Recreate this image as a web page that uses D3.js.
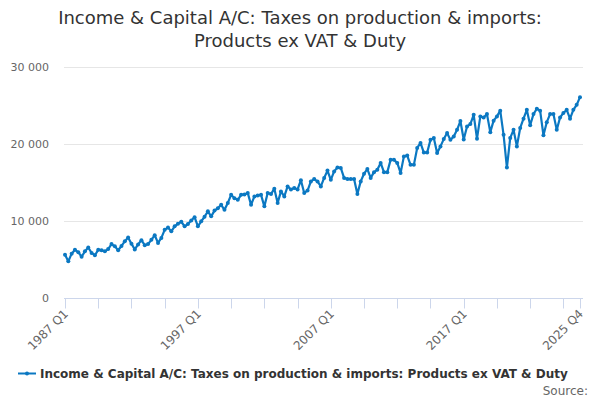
<!DOCTYPE html>
<html>
<head>
<meta charset="utf-8">
<script src="https://cdn.jsdelivr.net/npm/d3@7"></script>
<style>
  html, body { margin: 0; padding: 0; background: #fff; }
  svg { display: block; font-family: "DejaVu Sans", "Open Sans", sans-serif; }
</style>
</head>
<body>
<svg id="chart" width="600" height="400"></svg>
<script>
// ---- data ----
const titleLines = ["Income & Capital A/C: Taxes on production & imports:", "Products ex VAT & Duty"];
const seriesName = "Income & Capital A/C: Taxes on production & imports: Products ex VAT & Duty";
const startYear = 1987;
const values = [
  5550, 4700, 5700, 6200, 5900, 5300, 6000, 6500, 5800, 5500,
  6200, 6150, 6000, 6300, 6950, 6650, 6150, 6700, 7300, 7800,
  7000, 6250, 6900, 7450, 6800, 6950, 7500, 8100, 7100, 7750,
  8800, 9100, 8600, 9250, 9600, 9850, 9250, 9550, 10000, 10450,
  9250, 9900, 10500, 11200, 10550, 11300, 11600, 12050, 11400, 12300,
  13350, 12900, 12700, 13350, 13400, 13600, 12050, 13150, 13250, 13350,
  11850, 13600, 13450, 14150, 12300, 13800, 13150, 14450, 14050, 14250,
  14050, 15250, 13600, 13900, 15100, 15400, 15100, 14450, 15550, 16500,
  15300, 16400, 16900, 16850, 15550, 15400, 15400, 15400, 13450, 15100,
  16100, 16700, 15550, 16300, 16600, 17500, 16300, 16300, 17900, 17900,
  17500, 16200, 18350, 18450, 17250, 17250, 19450, 20100, 18850, 18850,
  20500, 20750, 18800, 19650, 20600, 21400, 20500, 20950, 21800, 22950,
  20550, 22250, 22550, 23750, 20650, 23550, 23400, 23850, 21500, 23000,
  23550, 24300, 21150, 16900, 20750, 21800, 19650, 22050, 23250, 24400,
  22400, 23850, 24550, 24300, 21100, 22800, 23850, 23850, 21800, 23400,
  24000, 24400, 23250, 24400, 25050, 26050
];
const categories = values.map((v, i) => `${startYear + Math.floor(i / 4)} Q${(i % 4) + 1}`);
const yTicks = [0, 10000, 20000, 30000];
const labelIdx = [0, 40, 80, 120, 155];
const tickIdx = d3.range(0, 151, 10).concat([155]);

// ---- layout ----
const svg = d3.select("#chart");
const plotLeft = 64, plotRight = 583;
const x = d3.scaleLinear().domain([0, values.length - 1]).range([65, 580]);
const y = d3.scaleLinear().domain([0, 30000]).range([297.5, 66.8]);
const color = "#0b78c2";
const fmt = v => d3.format(",")(v).replace(/,/g, " ");

// title
svg.append("text")
  .attr("x", 300).attr("y", 24)
  .attr("text-anchor", "middle")
  .style("font-size", "18px").style("fill", "#333")
  .selectAll("tspan").data(titleLines).join("tspan")
  .attr("x", 300).attr("dy", (d, i) => i === 0 ? 0 : 22.5)
  .text(d => d);

// gridlines
svg.append("g").selectAll("line").data(yTicks.filter(d => d > 0)).join("line")
  .attr("x1", plotLeft).attr("x2", plotRight)
  .attr("y1", d => Math.round(y(d)) + 0.5).attr("y2", d => Math.round(y(d)) + 0.5)
  .attr("stroke", "#e6e6e6").attr("stroke-width", 1);

// y labels
svg.append("g").selectAll("text").data(yTicks).join("text")
  .attr("x", 49).attr("y", d => y(d) + 4)
  .attr("text-anchor", "end")
  .style("font-size", "11px").style("fill", "#666")
  .text(d => fmt(d));

// x axis line and ticks
const axY = Math.round(y(0)) + 0.5;
svg.append("line")
  .attr("x1", plotLeft).attr("x2", plotRight)
  .attr("y1", axY).attr("y2", axY)
  .attr("stroke", "#ccd6eb").attr("stroke-width", 1);
svg.append("g").selectAll("line").data(tickIdx).join("line")
  .attr("x1", d => Math.round(x(d)) + 0.5).attr("x2", d => Math.round(x(d)) + 0.5)
  .attr("y1", axY).attr("y2", axY + 10)
  .attr("stroke", "#ccd6eb").attr("stroke-width", 1);

// x labels rotated
svg.append("g").selectAll("text").data(labelIdx).join("text")
  .attr("transform", d => `translate(${x(d) + 4},${axY + 16}) rotate(-45)`)
  .attr("text-anchor", "end")
  .style("font-size", "12px").style("fill", "#666")
  .text(d => categories[d]);

// line
const line = d3.line().x((d, i) => x(i)).y(d => y(d));
svg.append("path").datum(values)
  .attr("d", line)
  .attr("fill", "none").attr("stroke", color)
  .attr("stroke-width", 2.2).attr("stroke-linejoin", "round");
svg.append("g").selectAll("circle").data(values).join("circle")
  .attr("cx", (d, i) => x(i)).attr("cy", d => y(d))
  .attr("r", 2).attr("fill", color);

// legend
svg.append("line").attr("x1", 18).attr("x2", 36).attr("y1", 373.5).attr("y2", 373.5)
  .attr("stroke", color).attr("stroke-width", 2);
svg.append("circle").attr("cx", 27).attr("cy", 373.5).attr("r", 2).attr("fill", color);
svg.append("text").attr("x", 40).attr("y", 378)
  .style("font-size", "12px").style("font-weight", "bold").style("fill", "#333")
  .text(seriesName);

// source
svg.append("text").attr("x", 588).attr("y", 395)
  .attr("text-anchor", "end")
  .style("font-size", "12px").style("fill", "#666")
  .text("Source:");
</script>
</body>
</html>
